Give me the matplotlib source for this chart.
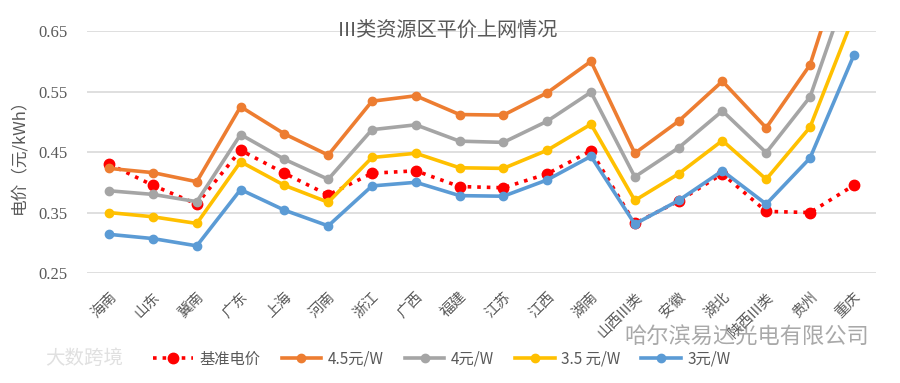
import matplotlib.pyplot as plt

plt.rcParams['font.family'] = ['Noto Sans CJK SC', 'DejaVu Sans']

# 省份 / 地区
regions = ['海南', '山东', '冀南', '广东', '上海', '河南', '浙江', '广西', '福建',
           '江苏', '江西', '湖南', '山西III类', '安徽', '湖北', '陕西III类', '贵州', '重庆']

# 电价 (元/kWh)
base  = [0.430, 0.395, 0.364, 0.453, 0.415, 0.379, 0.415, 0.419, 0.393,
         0.391, 0.414, 0.452, 0.332, 0.369, 0.414, 0.352, 0.350, 0.395]
p45   = [0.423, 0.416, 0.401, 0.525, 0.480, 0.445, 0.534, 0.543, 0.512,
         0.511, 0.548, 0.600, 0.448, 0.501, 0.567, 0.490, 0.594, 0.819]
p40   = [0.386, 0.380, 0.368, 0.479, 0.438, 0.405, 0.487, 0.495, 0.468,
         0.466, 0.501, 0.549, 0.409, 0.457, 0.518, 0.449, 0.541, 0.749]
p35   = [0.350, 0.343, 0.332, 0.434, 0.395, 0.367, 0.441, 0.448, 0.424,
         0.423, 0.453, 0.496, 0.370, 0.414, 0.469, 0.405, 0.491, 0.675]
p30   = [0.314, 0.307, 0.295, 0.388, 0.354, 0.328, 0.394, 0.400, 0.378,
         0.377, 0.404, 0.443, 0.331, 0.370, 0.419, 0.364, 0.440, 0.610]

yticks = [0.25, 0.35, 0.45, 0.55, 0.65]

fig = plt.figure(figsize=(9, 3.83), dpi=100)
ax = fig.add_axes([0.097, 0.287, 0.876, 0.632])

x = range(len(regions))
ax.plot(x, base, ':', color='#FF0000', lw=2.6, marker='o', ms=7.5, label='基准电价')
ax.plot(x, p45, '-', color='#ED7D31', lw=2.6, marker='o', ms=6, label='4.5元/W')
ax.plot(x, p40, '-', color='#A5A5A5', lw=2.6, marker='o', ms=6, label='4元/W')
ax.plot(x, p35, '-', color='#FFC000', lw=2.6, marker='o', ms=6, label='3.5 元/W')
ax.plot(x, p30, '-', color='#5B9BD5', lw=2.6, marker='o', ms=6, label='3元/W')

ax.set_xlim(-0.5, len(regions) - 0.5)
ax.set_ylim(0.25, 0.65)
ax.set_yticks(yticks)
ax.set_yticklabels(['%.2f' % v for v in yticks], family='Liberation Serif', fontsize=12, color='#595959')
ax.set_xticks(list(x))
ax.set_xticklabels(regions, rotation=45, ha='right', va='top', rotation_mode='anchor',
                   fontsize=10.5, color='#595959')
ax.tick_params(length=0)
ax.tick_params(axis='x', pad=12)
ax.tick_params(axis='y', pad=14)
ax.grid(axis='y', color='#D9D9D9', lw=1.2)
ax.set_axisbelow(True)
for s in ax.spines.values():
    s.set_visible(False)

ax.set_ylabel('电价（元/kWh）', fontsize=12, color='#595959', labelpad=8)

fig.text(0.497, 0.922, 'Ⅲ类资源区平价上网情况', ha='center', va='center', fontsize=14.5, color='#595959')

ax.legend(loc='center', bbox_to_anchor=(0.491, 0.062), bbox_transform=fig.transFigure,
          ncol=5, frameon=False, fontsize=11, handlelength=2.6, columnspacing=1.4,
          labelcolor='#595959', handletextpad=0.4)

# 水印
fig.text(0.05, 0.065, '大数跨境', fontsize=14, color='#E0E0E0', ha='left', va='center')
fig.text(0.694, 0.122, '哈尔滨易达光电有限公司', fontsize=16, color='#8C8C8C', ha='left', va='center', alpha=0.75)

fig.savefig('out.png', dpi=100)
